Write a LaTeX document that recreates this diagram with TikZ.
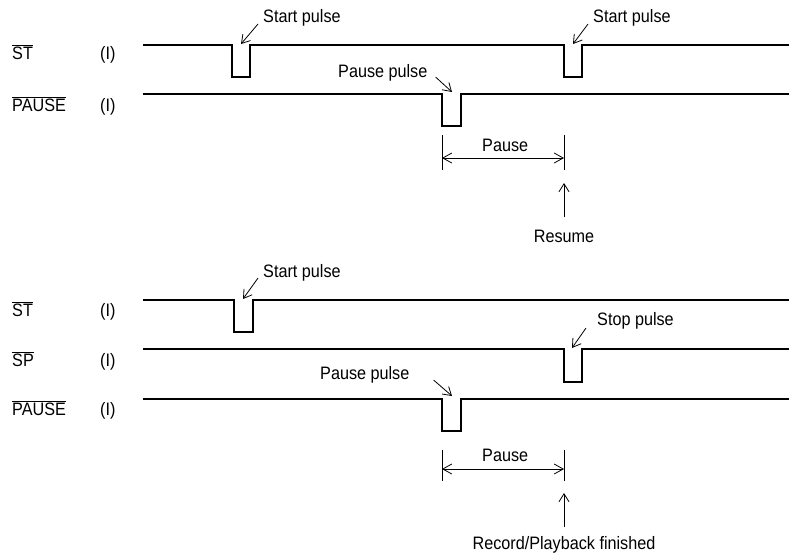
\documentclass[tikz,border=0pt]{standalone}
\usepackage{fontspec}
\setmainfont{Liberation Sans}[FakeStretch=0.9]
\usetikzlibrary{arrows.meta,positioning,calc}

\tikzset{
  wave/.style={line width=1.2pt},
  txt/.style={font=\fontsize{18}{20}\selectfont, inner sep=0pt, anchor=base west},
  ptr/.style={line width=0.8pt, -{Straight Barb[length=8pt,width=10pt]}},
  span/.style={line width=0.8pt, {Straight Barb[length=9pt,width=10pt]}-{Straight Barb[length=9pt,width=10pt]}},
  tick/.style={line width=0.8pt}
}

\begin{document}
\begin{tikzpicture}[x=1pt,y=-1pt]
  \useasboundingbox (0,0) rectangle (789,555);

  % signal names
  \foreach \nm/\lab/\yb in {sta/ST/59, pza/PAUSE/111, stb/ST/316, spb/SP/366, pzb/PAUSE/415} {
    \node[txt] (\nm) at (12,\yb) {$\overline{\mbox{\lab}}$};
    \node[txt] (\nm-io) at (100,\yb) {(I)};
  }

  % upper diagram: pause, then resume
  \draw[wave] (143,45) -| (232,77) -| (250,45) -| (564,77) -| (582,45) -- (789,45);
  \draw[wave] (143,94) -| (442,126) -| (461,94) -- (789,94);

  \coordinate (stp1) at (241,44);
  \coordinate (stp2) at (573,44);
  \coordinate (pzp1) at (452,92);
  \node[txt] (sl1) at (263,22) {Start pulse};
  \node[txt] (sl2) at (593,22) {Start pulse};
  \node[txt] (pl1) at (338,77) {Pause pulse};
  \draw[ptr] ([shift={(-5,2)}]sl1.base west) -- (stp1);
  \draw[ptr] ([shift={(-5,2)}]sl2.base west) -- (stp2);
  \draw[ptr] ([shift={(8,0)}]pl1.base east) -- (pzp1);

  \coordinate (da1) at (442,135);
  \coordinate (db1) at (564,135);
  \draw[tick] (da1) -- ++(0,35);
  \draw[tick] (db1) -- ++(0,35);
  \draw[span] ($(da1)+(0,23)$) -- ($(db1)+(0,23)$);
  \node[txt] (dl1) at (482,151) {Pause};
  \node[txt, anchor=base] (rs) at (564,242) {Resume};
  \coordinate (rsp) at (564,183);
  \draw[ptr] ([shift={(0,-12)}]rs.north) -- (rsp);

  % lower diagram: pause, then stop
  \draw[wave] (143,300) -| (234,332) -| (253,300) -- (789,300);
  \draw[wave] (143,349) -| (564,382) -| (582,349) -- (789,349);
  \draw[wave] (143,399) -| (442,431) -| (461,399) -- (789,399);

  \coordinate (stp3) at (243,299);
  \coordinate (spp3) at (572,348);
  \coordinate (pzp3) at (452,396);
  \node[txt] (sl3) at (263,277) {Start pulse};
  \node[txt] (ql3) at (597,325) {Stop pulse};
  \node[txt] (pl3) at (320,379) {Pause pulse};
  \draw[ptr] ([shift={(-5,1)}]sl3.base west) -- (stp3);
  \draw[ptr] ([shift={(-11,3)}]ql3.base west) -- (spp3);
  \draw[ptr] ([shift={(24,1)}]pl3.base east) -- (pzp3);

  \coordinate (da2) at (442,450);
  \coordinate (db2) at (564,450);
  \draw[tick] (da2) -- ++(0,31);
  \draw[tick] (db2) -- ++(0,31);
  \draw[span] ($(da2)+(0,19)$) -- ($(db2)+(0,19)$);
  \node[txt] (dl2) at (482,461) {Pause};
  \node[txt, anchor=base] (rp) at (564,549) {Record/Playback finished};
  \coordinate (rpp) at (564,493);
  \draw[ptr] ([shift={(0,-9)}]rp.north) -- (rpp);
\end{tikzpicture}
\end{document}
